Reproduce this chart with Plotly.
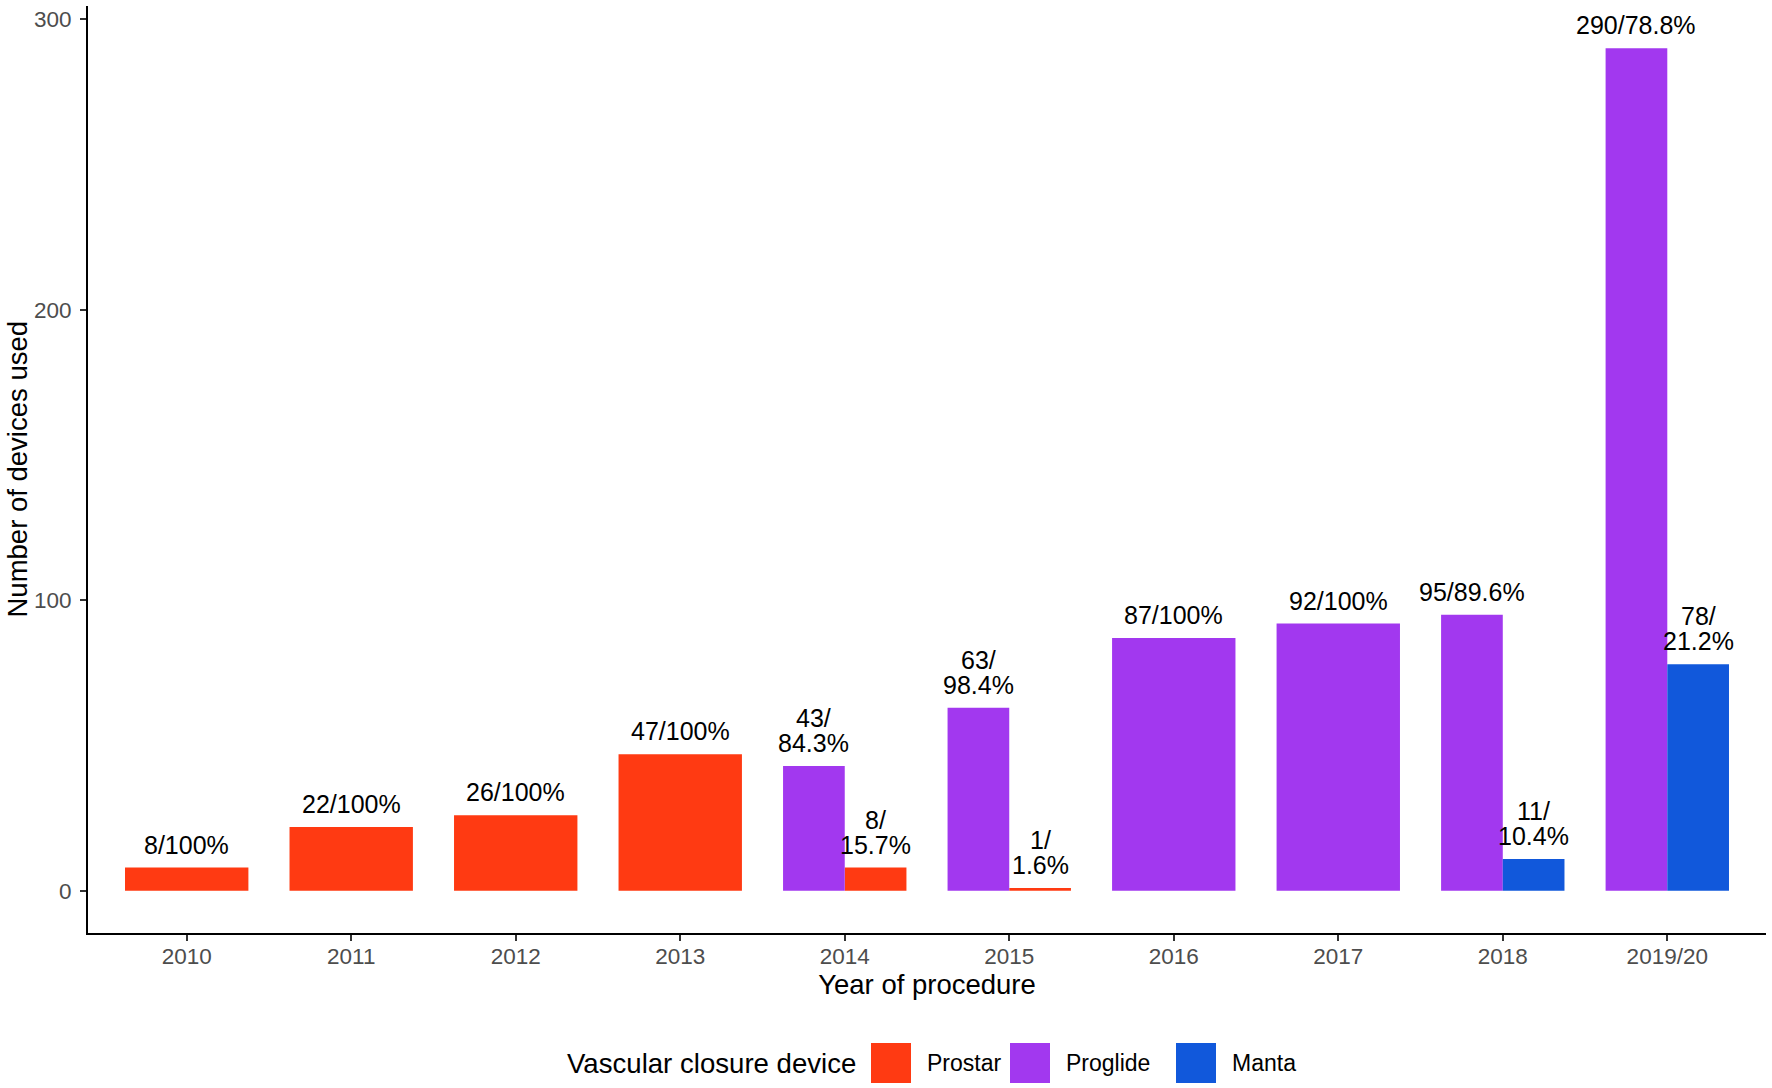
import plotly.graph_objects as go

# ---------------- data ----------------
years = ["2010", "2011", "2012", "2013", "2014", "2015", "2016", "2017", "2018", "2019/20"]
devices = ["Prostar", "Proglide", "Manta"]
colors = {"Prostar": "#FF3A12", "Proglide": "#A238EF", "Manta": "#1158DB"}

prostar = [8, 22, 26, 47, 8, 1, None, None, None, None]
proglide = [None, None, None, None, 43, 63, 87, 92, 95, 290]
manta = [None, None, None, None, None, None, None, None, 11, 78]

prostar_labels = ["8/100%", "22/100%", "26/100%", "47/100%", "8/<br>15.7%", "1/<br>1.6%",
                  None, None, None, None]
proglide_labels = [None, None, None, None, "43/<br>84.3%", "63/<br>98.4%", "87/100%",
                   "92/100%", "95/89.6%", "290/78.8%"]
manta_labels = [None, None, None, None, None, None, None, None, "11/<br>10.4%", "78/<br>21.2%"]

y_ticks = [0, 100, 200, 300]

values = {"Prostar": prostar, "Proglide": proglide, "Manta": manta}
labels = {"Prostar": prostar_labels, "Proglide": proglide_labels, "Manta": manta_labels}
dodge_order = ["Proglide", "Prostar", "Manta"]
total_width = 0.75

# ---------------- layout constants ----------------
W, H = 1772, 1088
ML, MR, MT, MB = 88, 6, 6, 1088 - 933
PW, PH = W - ML - MR, H - MT - MB
FONT = "Liberation Sans, Arial, Helvetica, sans-serif"

fig = go.Figure()
annotations = []

for dev in devices:
    xs, ys, ws, offs = [], [], [], []
    for i, yr in enumerate(years):
        v = values[dev][i]
        if v is None:
            continue
        present = [d for d in dodge_order if values[d][i] is not None]
        n = len(present)
        w = total_width / n
        k = present.index(dev)
        off = -total_width / 2 + k * w
        xs.append(i)
        ys.append(v)
        ws.append(w)
        offs.append(off)
        lab = labels[dev][i]
        if lab:
            lines = lab.split("<br>")
            nl = len(lines)
            for j, line in enumerate(lines):
                annotations.append(dict(
                    x=i + off + w / 2, y=v, xref="x", yref="y",
                    text=line, showarrow=False, yanchor="bottom", xanchor="center",
                    yshift=7 + (nl - 1 - j) * 25,
                    font=dict(family=FONT, size=25, color="black")))
    fig.add_trace(go.Bar(
        x=xs, y=ys, width=ws, offset=offs, name=dev,
        marker=dict(color=colors[dev], line=dict(width=0)),
        showlegend=False, hoverinfo="x+y"))

# ---------------- manual legend (ggplot-style large keys) ----------------
def px_x(p):  # p in screenshot pixels
    return (p - ML) / PW

def px_y(p):
    return (H - MB - p) / PH

legend_key_left = [871, 1010, 1176]
key_w, key_h = 40, 40
key_top = 1043
shapes = []
for dev, kx in zip(devices, legend_key_left):
    shapes.append(dict(type="rect", xref="paper", yref="paper",
                       x0=px_x(kx), x1=px_x(kx + key_w),
                       y0=px_y(key_top + key_h), y1=px_y(key_top),
                       fillcolor=colors[dev], line=dict(width=0)))
    annotations.append(dict(x=px_x(kx + key_w + 14), y=px_y(key_top + key_h / 2),
                            xref="paper", yref="paper", text=dev, showarrow=False,
                            xanchor="left", yanchor="middle",
                            font=dict(family=FONT, size=23, color="black")))
annotations.append(dict(x=px_x(565), y=px_y(key_top + key_h / 2), xref="paper", yref="paper",
                        text="Vascular closure device", showarrow=False,
                        xanchor="left", yanchor="middle",
                        font=dict(family=FONT, size=27.6, color="black")))

# y-axis title placed as a rotated annotation (ggplot position)
annotations.append(dict(x=px_x(17), y=0.5, xref="paper", yref="paper",
                        text="Number of devices used", textangle=-90, showarrow=False,
                        xanchor="center", yanchor="middle",
                        font=dict(family=FONT, size=27.5, color="black")))

fig.update_layout(
    width=W, height=H,
    margin=dict(l=ML, r=MR, t=MT, b=MB, autoexpand=False),
    paper_bgcolor="white", plot_bgcolor="white",
    barmode="overlay",
    font=dict(family=FONT, color="black"),
    annotations=annotations, shapes=shapes,
    showlegend=False,
    xaxis=dict(
        range=[-0.6, 9.6], tickmode="array", tickvals=list(range(len(years))), ticktext=years,
        showline=True, linecolor="black", linewidth=2, mirror=False,
        ticks="outside", ticklen=6, tickwidth=1.5, tickcolor="#333333",
        tickfont=dict(family=FONT, size=22.5, color="#4D4D4D"),
        ticklabelstandoff=-4,
        showgrid=False, zeroline=False,
        title=dict(text="Year of procedure", font=dict(family=FONT, size=27.5, color="black"),
                   standoff=7),
    ),
    yaxis=dict(
        range=[-14.5, 304.5], tickmode="array", tickvals=y_ticks,
        showline=True, linecolor="black", linewidth=2,
        ticks="outside", ticklen=6, tickwidth=1.5, tickcolor="#333333",
        tickfont=dict(family=FONT, size=22.5, color="#4D4D4D"),
        ticklabelstandoff=4,
        showgrid=False, zeroline=False,
    ),
)

fig.write_html("out.html",
               config={"displayModeBar": False},
               post_script="document.body.style.margin='0';document.body.style.overflow='hidden';")
